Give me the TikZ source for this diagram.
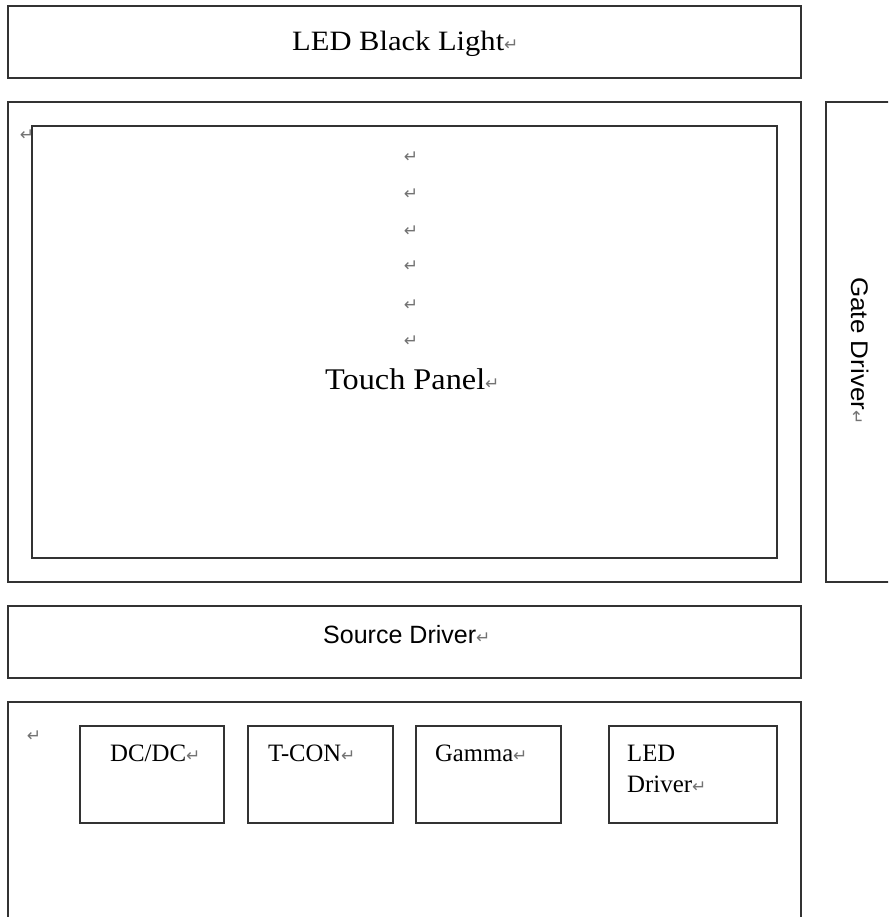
\documentclass[tikz,border=0pt]{standalone}
\usepackage{graphicx}
\usepackage{fontspec}
\setmainfont{Liberation Serif}
\setsansfont{Liberation Sans}
\newfontfamily\symfont{DejaVu Sans}
\newcommand\pmark{{\symfont\color{black!55}\fontsize{17}{17}\selectfont ↵}}
\newcommand\fitw[2]{\resizebox{#1}{\height}{#2}}
\begin{document}
\begin{tikzpicture}[x=1pt,y=-1pt,
  box/.style={draw=black!80, line width=1.6pt, fill=white, inner sep=0pt, outer sep=0pt, anchor=north west},
  lbl/.style={inner sep=0pt, anchor=base west},
  serif/.style={font=\rmfamily\fontsize{#1}{#1}\selectfont},
  sans/.style={font=\sffamily\fontsize{#1}{#1}\selectfont},
  pm/.style={inner sep=0pt}]
\useasboundingbox (0,0) rectangle (888,917);
\clip (0,0) rectangle (888,917);
\fill[white] (0,0) rectangle (888,917);
% top backlight
\node[box, minimum width=793pt, minimum height=72pt] (led) at (8,6) {};
\node[lbl, serif=28] (ledt) at (292,51) {\fitw{212pt}{LED Black Light}\pmark};
% panel
\node[box, minimum width=793pt, minimum height=480pt] (panel) at (8,102) {};
\node[pm] (pm0) at (27,135) {\pmark};
\node[box, minimum width=745pt, minimum height=432pt] (touch) at (32,126) {};
\foreach \i/\yy in {1/157,2/194,3/231,4/266,5/305,6/341}
  \node[pm] (pmt\i) at (411,\yy) {\pmark};
\node[lbl, serif=30] (touchpanel) at (325,389) {\fitw{160pt}{Touch Panel}\pmark};
% gate driver
\node[box, minimum width=70pt, minimum height=480pt] (gate) at (826,102) {};
\node[lbl, sans=24, rotate=-90] (gatet) at (851,277) {\fitw{133pt}{Gate Driver}\pmark};
% source driver
\node[box, minimum width=793pt, minimum height=72pt] (source) at (8,606) {};
\node[lbl, sans=25] (sourcet) at (323,643) {\fitw{153pt}{Source Driver}\pmark};
% control board
\node[box, minimum width=793pt, minimum height=240pt] (board) at (8,702) {};
\node[pm] (pmb) at (34,736) {\pmark};
\node[box, minimum width=144pt, minimum height=97pt] (dcdc) at (80,726) {};
\node[box, minimum width=145pt, minimum height=97pt] (tcon) at (248,726) {};
\node[box, minimum width=145pt, minimum height=97pt] (gamma) at (416,726) {};
\node[box, minimum width=168pt, minimum height=97pt] (leddrv) at (609,726) {};
\node[lbl, serif=25] (dcdct) at (110,761) {\fitw{76pt}{DC/DC}\pmark};
\node[lbl, serif=25] (tcont) at (268,761) {\fitw{73pt}{T-CON}\pmark};
\node[lbl, serif=25] (gammat) at (435,761) {\fitw{78pt}{Gamma}\pmark};
\node[lbl, serif=25] (ledt1) at (627,761) {\fitw{48pt}{LED}};
\node[lbl, serif=25] (ledt2) at (627,792) {\fitw{65pt}{Driver}\pmark};
\end{tikzpicture}
\end{document}
